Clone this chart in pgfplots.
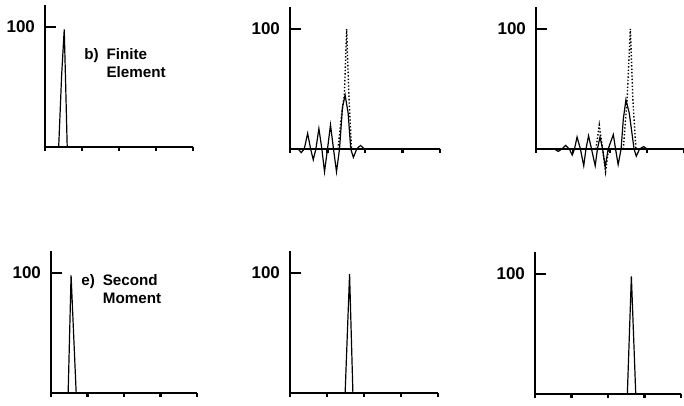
\documentclass[border=0pt]{standalone}
\usepackage{fontspec}
\setmainfont{Liberation Sans}
\usepackage{pgfplots}
\pgfplotsset{compat=1.18}

% === ESTILOS ===
\pgfplotsset{
    panel/.style={
        scale only axis, anchor=south west,
        height=70.8pt,
        xmin=0, xmax=4, ymin=0, ymax=118,
        axis lines=left, axis line style={-, line width=0.9pt},
        clip=false,
        tick align=outside, major tick length=2pt,
        xtick={0,1,2,3,4}, xticklabels={},
        x tick style={line width=1.2pt, black},
        ytick={100}, yticklabels={100},
        y tick style={draw=none},
        yticklabel style={font=\fontsize{8.5}{9}\selectfont\bfseries, xshift=0.5pt},
    },
    solida/.style={black, line width=0.6pt},
    punteada/.style={black, line width=0.7pt, densely dotted},
    marca100/.style={black, line width=1pt},
}
\newcommand{\etiqueta}[2]{%
  {\fontsize{7.6}{9}\selectfont\bfseries
   \begin{tabular}{@{}l@{\hspace{4pt}}l@{}}#1 & #2\end{tabular}}}

\begin{document}
\begin{tikzpicture}
\useasboundingbox (0pt,0pt) rectangle (342pt,203pt);

% --- b) Finite Element, primer paso ---
\begin{axis}[panel, at={(22.5pt,129.5pt)}, width=74pt]
\addplot[marca100] coordinates {(0,100) (0.3,100)};
\addplot[solida] coordinates {(0,0) (0.37,0) (0.45,60) (0.52,98) (0.56,50) (0.60,0) (4,0)};
\node[anchor=north west, inner sep=0pt] at (axis cs:1.05,84) {\etiqueta{b)}{Finite\\ & Element}};
\end{axis}

% --- segundo paso ---
\begin{axis}[panel, at={(145pt,128.5pt)}, width=75pt]
\addplot[marca100] coordinates {(0,100) (0.3,100)};
\addplot[punteada] coordinates {(1.28,0) (1.38,30) (1.45,45) (1.51,100) (1.57,45) (1.64,0)};
\addplot[solida] coordinates {
  (0,0) (0.22,0) (0.30,-3) (0.38,0) (0.47,13) (0.55,0) (0.62,-9) (0.69,0)
  (0.77,17) (0.85,0) (0.92,-19) (1.00,0) (1.08,20) (1.16,0) (1.24,-19) (1.32,0)
  (1.40,35) (1.47,45) (1.55,30) (1.62,0) (1.69,-7) (1.78,0) (1.88,3) (1.98,0) (4,0)};
\end{axis}

% --- tercer paso ---
\begin{axis}[panel, at={(268pt,128.5pt)}, width=74pt]
\addplot[marca100] coordinates {(0,100) (0.3,100)};
\addplot[punteada] coordinates {(1.62,0) (1.71,20) (1.80,0) (1.88,-19) (1.96,0)};
\addplot[punteada] coordinates {(2.36,0) (2.46,40) (2.55,100) (2.62,40) (2.70,0)};
\addplot[solida] coordinates {
  (0,0) (0.5,0) (0.6,-2) (0.7,0) (0.8,3) (0.9,0) (0.98,-5) (1.04,0)
  (1.11,10) (1.20,0) (1.29,-14) (1.35,0) (1.42,11) (1.50,0) (1.60,-14) (1.66,0)
  (1.73,10) (1.80,0) (1.87,-15) (1.95,0) (2.09,12) (2.15,0) (2.22,-13) (2.30,0)
  (2.36,25) (2.43,41) (2.52,30) (2.65,0) (2.71,-6) (2.80,0) (2.91,2) (3.0,0) (4,0)};
\end{axis}

% --- e) Second Moment ---
\begin{axis}[panel, at={(25.5pt,6.5pt)}, width=73pt]
\addplot[marca100] coordinates {(0,100) (0.3,100)};
\addplot[solida] coordinates {(0,0) (0.47,0) (0.55,98) (0.69,0) (4,0)};
\node[anchor=north west, inner sep=0pt] at (axis cs:0.82,100) {\etiqueta{e)}{Second\\ & Moment}};
\end{axis}

\begin{axis}[panel, at={(145pt,6.5pt)}, width=74pt]
\addplot[marca100] coordinates {(0,100) (0.3,100)};
\addplot[solida] coordinates {(0,0) (1.49,0) (1.61,99) (1.70,0) (4,0)};
\end{axis}

\begin{axis}[panel, at={(267.5pt,6pt)}, width=73pt]
\addplot[marca100] coordinates {(0,100) (0.3,100)};
\addplot[solida] coordinates {(0,0) (2.53,0) (2.64,98) (2.76,0) (4,0)};
\end{axis}

\end{tikzpicture}
\end{document}
